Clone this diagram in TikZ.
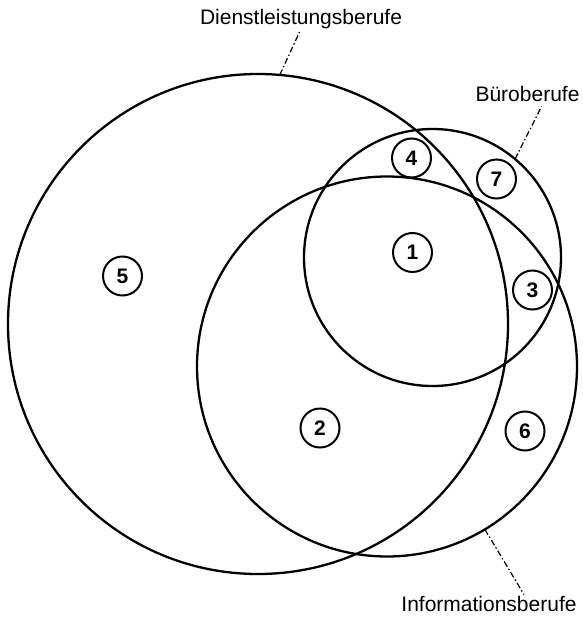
\documentclass[tikz,border=0pt]{standalone}
\usepackage{fontspec}
\setmainfont{Liberation Sans}
\begin{document}
\begin{tikzpicture}[x=1pt,y=-1pt,
  ring/.style={draw, circle, line width=2.3pt, inner sep=0pt, outer sep=0pt},
  num/.style={draw, circle, line width=2pt, minimum size=39pt, inner sep=0pt,
    font=\fontsize{21}{21}\selectfont\bfseries},
  lbl/.style={font=\fontsize{21}{21}\selectfont, inner sep=0pt, anchor=base},
  leader/.style={line width=1.2pt, dash pattern=on 6pt off 2.5pt on 1.5pt off 2.5pt}]
\useasboundingbox (0,0) rectangle (582,618);
% main sets
\node[ring, minimum size=500pt] (D) at (258,324) {};
\node[ring, minimum size=257pt] (B) at (432.5,257.5) {};
\node[ring, minimum size=380pt] (I) at (387,366.5) {};
% region numbers
\node[num] (n1) at (412.5,252.5) {1};
\node[num] (n2) at (320,428) {2};
\node[num] (n3) at (532.5,290) {3};
\node[num] (n4) at (411.5,158) {4};
\node[num] (n5) at (122.5,276) {5};
\node[num] (n6) at (525,431) {6};
\node[num] (n7) at (496.5,179) {7};
% labels
\node[lbl] (lD) at (301,25) {Dienstleistungsberufe};
\node[lbl] (lB) at (527.5,101.5) {Büroberufe};
\node[lbl] (lI) at (489,611) {Informationsberufe};
% leader ends
\coordinate (eD) at (299.5,32);
\coordinate (eB) at (541.5,106.5);
\coordinate (eI) at (524,594.5);
\draw[leader] (D.85.6) -- (eD);
\draw[leader] (B.50.6) -- (eB);
\draw[leader] (I.-59) -- (eI);
\end{tikzpicture}
\end{document}
